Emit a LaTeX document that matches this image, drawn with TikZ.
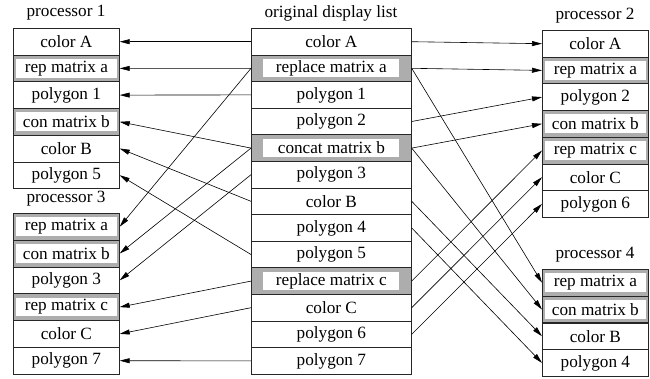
\documentclass[tikz,border=0pt]{standalone}
\usepackage{fontspec}
\setmainfont{Liberation Serif}
\usetikzlibrary{arrows.meta}
\begin{document}
\begin{tikzpicture}[x=1pt,y=-1pt,
  txt/.style={font=\fontsize{17.2}{19}\selectfont},
  cell/.style={draw=black!85, line width=0.7pt, anchor=north west, inner sep=0pt,
    minimum height=26.7pt, txt},
  side/.style={cell, minimum width=106pt},
  mid/.style={cell, minimum width=160pt},
  plain/.style={},
  shS/.style={fill=black!32, path picture={\fill[white]
    ([shift={(2.5pt,4pt)}]path picture bounding box.south west) rectangle
    ([shift={(-2.5pt,-4pt)}]path picture bounding box.north east);}},
  shM/.style={fill=black!32, path picture={\fill[white]
    ([shift={(12pt,4.5pt)}]path picture bounding box.south west) rectangle
    ([shift={(-12pt,-4.5pt)}]path picture bounding box.north east);}},
  con/.style={line width=0.6pt, -{Triangle[length=10pt,width=5pt]}},
  ttl/.style={txt, inner sep=0pt}
]
\useasboundingbox (0,0) rectangle (650,378);

% titles
\node[ttl] (t1) at (66,13) {processor 1};
\node[ttl] (t3) at (66,199) {processor 3};
\node[ttl] (tm) at (331,13) {original display list};
\node[ttl] (t2) at (595,16) {processor 2};
\node[ttl] (t4) at (595,255) {processor 4};

% middle
\foreach \t/\s [count=\i] in {color A/plain, replace matrix a/shM, polygon 1/plain,
  polygon 2/plain, concat matrix b/shM, polygon 3/plain, color B/plain,
  polygon 4/plain, polygon 5/plain, replace matrix c/shM, color C/plain,
  polygon 6/plain, polygon 7/plain}
  \node[mid,\s] (m\i) at (251,{28+26.6*(\i-1)}) {\t};

% processor 1
\foreach \t/\s [count=\i] in {color A/plain, rep matrix a/shS, polygon 1/plain,
  con matrix b/shS, color B/plain, polygon 5/plain}
  \node[side,\s] (a\i) at (13,{28+26.7*(\i-1)}) {\t};

% processor 3
\foreach \t/\s [count=\i] in {rep matrix a/shS, con matrix b/shS, polygon 3/plain,
  rep matrix c/shS, color C/plain, polygon 7/plain}
  \node[side,\s] (c\i) at (13,{213+26.8*(\i-1)}) {\t};

% processor 2
\foreach \t/\s [count=\i] in {color A/plain, rep matrix a/shS, polygon 2/plain,
  con matrix b/shS, rep matrix c/shS, color C/plain, polygon 6/plain}
  \node[side,\s] (b\i) at (542,{30+26.7*(\i-1)}) {\t};

% processor 4
\foreach \t/\s [count=\i] in {rep matrix a/shS, con matrix b/shS, color B/plain,
  polygon 4/plain}
  \node[side,\s] (d\i) at (542,{269+26.75*(\i-1)}) {\t};

% connectors to processor 1
\draw[con] (m1.west) -- (a1.east);
\draw[con] (m2.west) -- (a2.east);
\draw[con] (m3.west) -- (a3.east);
\draw[con] (m5.west) -- (a4.east);
\draw[con] (m7.west) -- (a5.east);
\draw[con] (m9.west) -- (a6.east);
% connectors to processor 3
\draw[con] (m2.west) -- (c1.east);
\draw[con] (m5.west) -- (c2.east);
\draw[con] (m6.west) -- (c3.east);
\draw[con] (m10.west) -- (c4.east);
\draw[con] (m11.west) -- (c5.east);
\draw[con] (m13.west) -- (c6.east);
% connectors to processor 2
\draw[con] (m1.east) -- (b1.west);
\draw[con] (m2.east) -- (b2.west);
\draw[con] (m4.east) -- (b3.west);
\draw[con] (m5.east) -- (b4.west);
\draw[con] (m10.east) -- (b5.west);
\draw[con] (m11.east) -- (b6.west);
\draw[con] (m12.east) -- (b7.west);
% connectors to processor 4
\draw[con] (m2.east) -- (d1.west);
\draw[con] (m5.east) -- (d2.west);
\draw[con] (m7.east) -- (d3.west);
\draw[con] (m8.east) -- (d4.west);
\end{tikzpicture}
\end{document}
